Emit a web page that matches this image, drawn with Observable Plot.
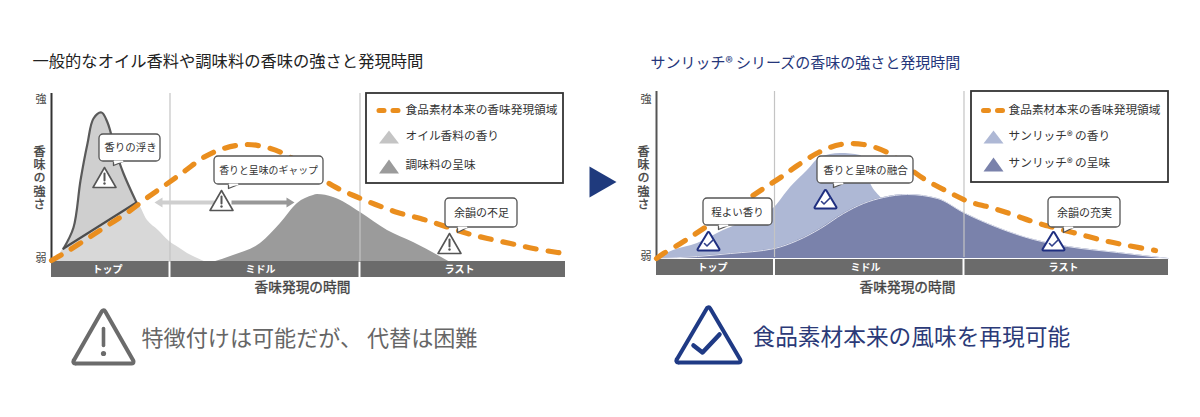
<!DOCTYPE html>
<html lang="ja">
<head>
<meta charset="utf-8">
<script src="https://cdn.jsdelivr.net/npm/d3@7"></script>
<script src="https://cdn.jsdelivr.net/npm/@observablehq/plot@0.6"></script>
<style>
html,body{margin:0;padding:0;background:#fff;width:1200px;height:417px;overflow:hidden}
#row{display:flex;width:1200px;height:417px}
svg{display:block;overflow:visible}
.vlabel text{writing-mode:vertical-rl;letter-spacing:1.3px}
</style>
</head>
<body>
<div id="row"></div>
<script>
// ---- shared labels ----
const phaseLabels = ["トップ", "ミドル", "ラスト"];
const axisTicks = ["弱", "強"];
const yAxisLabel = "香味の強さ";
const xAxisLabel = "香味発現の時間";
const regionLabel = "食品素材本来の香味発現領域";

// ---- left panel: [time, intensity] ----
const leftRegion = [[0,2],[14,10],[36,24],[56,37],[76,50],[96,65],[116,79],[134,92],[152,105],[172,114],[196,118],[219,114],[236,107],[259,92],[281,77],[302,67],[324,58],[346,50],[369,44],[391,37],[416,29],[436,24],[459,19],[482,14],[506,10],[514,9]];
const oilPeak = [[12,14],[22,35],[29,82],[36,119],[42,144],[50,150],[56,140],[64,112],[72,89],[85,60]];
const oilTail = [[4,0],[12,14],[85,60],[96,42],[107,32],[118,21],[127,15],[136,9],[144,5],[155,0]];
const leftTaste = [[161,0],[182,7],[209,19],[229,39],[246,59],[262,67],[266,68],[282,65],[309,50],[336,32],[362,20],[399,0]];
const leftCalloutLabels = ["香りの浮き", "香りと呈味のギャップ", "余韻の不足"];
const leftLegendNames = ["オイル香料の香り", "調味料の呈味"];

// ---- right panel: [time, intensity] ----
const rightRegion = [[0,0],[7,5],[24,15],[44,28],[74,48],[104,68],[124,81],[141,93],[162,106],[184,114],[207,114],[231,106],[249,93],[267,80],[291,67],[312,57],[334,51],[356,44],[379,36],[401,30],[424,24],[447,18],[471,13],[499,8]];
const sunAroma = [[0,0],[17,8],[41,15],[67,28],[91,38],[118,51],[134,71],[151,88],[164,101],[184,105],[204,103],[214,75],[226,59],[244,38],[269,0]];
const sunTaste = [[0,0],[41,2],[74,5],[118,10],[141,18],[164,30],[187,45],[207,55],[227,61],[251,64],[281,60],[307,46],[341,31],[377,19],[411,12],[461,6],[512,0]];
const rightCalloutLabels = ["程よい香り", "香りと呈味の融合", "余韻の充実"];
const rightLegendNames = ["サンリッチ® の香り", "サンリッチ® の呈味"];

// ---- annotation placement, in the panels' own time / intensity units ----
const leftCalloutPlaces = [
  {x1:48,x2:109,y1:101,y2:128,cx:79,cy:115,tip:[62,97],fs:10.5},
  {x1:163,x2:272,y1:78,y2:106,cx:217,cy:92,tip:[177,74],fs:9.9},
  {x1:394,x2:466,y1:35,y2:64,cx:430,cy:49,tip:[406,30],fs:11}
];
const rightCalloutPlaces = [
  {x1:47,x2:116,y1:33,y2:60,cx:81,cy:46,tip:[62,29],fs:10.5},
  {x1:161,x2:257,y1:75,y2:102,cx:209,cy:88,tip:[177,71],fs:10.6},
  {x1:392,x2:464,y1:31,y2:61,cx:428,cy:45,tip:[407,26],fs:11}
];
const leftBadges = [[53,75],[170,52],[398,9]];
const rightBadges = [[52,7],[169,49],[397,7]];

const FONT = "'Noto Sans CJK JP','Noto Sans',sans-serif";
const ORANGE = "#ea8e1e";

function closed(p){ return [...p, p[0]]; }
function poly(p, o){ return Plot.line(p, {x:d=>d[0], y:d=>d[1], strokeLinejoin:"round", ...o}); }
function tri(cx, b, w, h){ return closed([[cx-w,b],[cx+w,b],[cx,b+h]]); }
const label = (x,y,text,o={}) => Plot.text([text], {x:()=>x, y:()=>y, text:d=>d, fontSize:11, fill:"#333", ...o});
// rounded triangle: fat round-joined outline with a sharp white fill on top
function roundTri(p, color, width){
  return [poly(p,{stroke:color,strokeWidth:width}), poly(p,{fill:"#fff",stroke:"none"})];
}

function warnBadge([cx,b]){
  return [
    poly(tri(cx,b,11.5,20), {fill:"#fff", stroke:"#555", strokeWidth:1.6}),
    poly([[cx,b+14],[cx,b+7]], {stroke:"#555", strokeWidth:2}),
    Plot.dot([[cx,b+4]], {r:1.2, fill:"#555"})
  ];
}
function checkBadge([cx,b]){
  return [
    ...roundTri(tri(cx,b+2,10,16.5),"#1f2f80",4),
    poly([[cx-4,b+8],[cx-1.5,b+5.5],[cx+4.5,b+11.5]], {stroke:"#2f3f8a", strokeWidth:1.6, strokeLinecap:"round"})
  ];
}
function callout(c,i,labels){
  const a=[c.tip[0],c.y1], b=[c.tip[0]+10,c.y1];
  return [
    Plot.rect([c], {x1:"x1",x2:"x2",y1:"y1",y2:"y2",fill:"#fff",stroke:"#555",strokeWidth:1.3,rx:4}),
    poly([a,c.tip,b], {fill:"#fff",stroke:"#555",strokeWidth:1.3}),
    poly([[a[0]+1,a[1]],[b[0]-1,b[1]]], {stroke:"#fff",strokeWidth:2}),
    label(c.cx,c.cy,labels[i],{fontSize:c.fs})
  ];
}
function frame(o){
  return [
    Plot.ruleX(o.seps, {y1:1, y2:o.top, stroke:"#c4c4c4", strokeWidth:1.2}),
    Plot.ruleX([0], {y1:-1, y2:o.top, stroke:o.axisColor, strokeWidth:2}),
    Plot.axisY({ticks:o.tickVals, tickFormat:d=>axisTicks[o.tickVals.indexOf(d)], tickSize:0, tickPadding:5, fontSize:11, fill:"#444", label:null}),
    Plot.text([yAxisLabel], {x:()=>o.yLabelX, y:()=>o.yLabelY, text:d=>d, fontSize:12, fill:"#444", stroke:"#444", strokeWidth:0.35, className:"vlabel"}),
    Plot.rect(o.bands, {x1:"a", x2:"b", y1:o.bandY[0], y2:o.bandY[1], fill:"#6b6b6b"}),
    Plot.text(o.bands, {x:"c", y:o.bandLabelY, text:(d,i)=>phaseLabels[i], fill:"#fff", fontSize:10, fontWeight:"bold"}),
    label(o.xLabelX, o.xLabelY, xAxisLabel, {fontSize:13.7, fill:"#444", stroke:"#444", strokeWidth:0.35})
  ];
}
function legend(o){
  const [x1,x2,y1,y2]=o.box, m=o.mark;
  return [
    Plot.rect([0], {x1:()=>x1,x2:()=>x2,y1:()=>y1,y2:()=>y2,fill:"#fff",stroke:"#333",strokeWidth:1.8}),
    poly([[m,o.rows[0]],[m+19,o.rows[0]]], {stroke:ORANGE,strokeWidth:5,strokeLinecap:"round",strokeDasharray:"5 9"}),
    label(o.text,o.rows[0],regionLabel,{textAnchor:"start",fontSize:11.7}),
    poly(tri(m+10,o.rows[1]-7,10,13),{fill:o.colors[0]}),
    label(o.text,o.rows[1],o.names[0],{textAnchor:"start",fontSize:11.7}),
    poly(tri(m+10,o.rows[2]-8,10,14),{fill:o.colors[1]}),
    label(o.text,o.rows[2],o.names[1],{textAnchor:"start",fontSize:11.7})
  ];
}
const region = d => Plot.line(d, {x:p=>p[0], y:p=>p[1], curve:"catmull-rom", stroke:ORANGE, strokeWidth:5.2, strokeLinecap:"round", strokeDasharray:"11 12"});
const areaOf = (d,fill,extra={}) => Plot.areaY(d, {x:p=>p[0], y:p=>p[1], curve:"monotone-x", fill, ...extra});

const left = Plot.plot({
  width:620, height:417, marginLeft:51, marginRight:55, marginTop:92, marginBottom:155,
  x:{domain:[0,514], axis:null}, y:{domain:[0,170], axis:null},
  style:{fontFamily:FONT, background:"transparent", overflow:"visible"},
  marks:[
    label(-19,201,"一般的なオイル香料や調味料の香味の強さと発現時間",{textAnchor:"start",fontSize:16.3,fill:"#222"}),
    areaOf(oilTail,"#d8d8d8"),
    Plot.line(oilPeak,{x:p=>p[0],y:p=>p[1],curve:"catmull-rom",fill:"#cfcfcf",stroke:"#5a5a5a",strokeWidth:2.2}),
    poly([oilPeak[0],oilPeak[oilPeak.length-1]],{stroke:"#4d4d4d",strokeWidth:2.2}),
    areaOf(leftTaste,"#9b9b9b"),
    ...frame({seps:[118.5,308.5],top:169,axisColor:"#333",tickVals:[4,163],yLabelX:-12,yLabelY:88,
      bands:[{a:0,b:117.5,c:56},{a:119.5,b:307.5,c:209},{a:309.5,b:514,c:408}],bandY:[1,-15],bandLabelY:-7,xLabelX:251,xLabelY:-25}),
    region(leftRegion),
    poly(closed([[103,60],[111,65],[111,62],[165,62],[165,58],[111,58],[111,55]]),{fill:"#cfcfcf"}),
    poly(closed([[243,60],[235,65],[235,62],[180,62],[180,58],[235,58],[235,55]]),{fill:"#989898"}),
    ...leftCalloutPlaces.flatMap((c,i)=>callout(c,i,leftCalloutLabels)),
    ...leftBadges.flatMap(warnBadge),
    ...legend({box:[315,512,79,169],mark:327.5,text:354,rows:[152,126,97],colors:["#c4c4c4","#9b9b9b"],names:leftLegendNames}),
    ...roundTri(tri(52,-99,28,49),"#6b6b6b",8),
    poly([[52,-66],[52,-83]],{stroke:"#6b6b6b",strokeWidth:3.6}),
    Plot.dot([[52,-91]],{r:2.6,fill:"#6b6b6b"}),
    label(90,-76,"特徴付けは可能だが、 代替は困難",{textAnchor:"start",fontSize:22.1,fill:"#666"})
  ]
});

const right = Plot.plot({
  width:580, height:417, marginLeft:36, marginRight:30, marginTop:88, marginBottom:159,
  x:{domain:[0,514], axis:null}, y:{domain:[0,170], axis:null},
  style:{fontFamily:FONT, background:"transparent", overflow:"visible"},
  marks:[
    poly(closed([[-67,92],[-67,61],[-40,76.5]]),{fill:"#1f3a7d"}),
    label(-6,195,"サンリッチ® シリーズの香味の強さと発現時間",{textAnchor:"start",fontSize:15,fill:"#25367a"}),
    areaOf(sunAroma,"#aeb8d5"),
    areaOf(sunTaste,"#7a82ab"),
    Plot.line(sunTaste,{x:p=>p[0],y:p=>p[1],curve:"monotone-x",stroke:"#dfe2ee",strokeWidth:1}),
    ...frame({seps:[118,307.5],top:167,axisColor:"#555",tickVals:[2,159],yLabelX:-13,yLabelY:84,
      bands:[{a:0,b:117,c:56},{a:119,b:306.5,c:209},{a:308.5,b:512,c:407}],bandY:[-1,-17],bandLabelY:-9,xLabelX:251,xLabelY:-29}),
    region(rightRegion),
    ...rightCalloutPlaces.flatMap((c,i)=>callout(c,i,rightCalloutLabels)),
    ...rightBadges.flatMap(checkBadge),
    ...legend({box:[315,512,76,167],mark:327,text:352,rows:[148,122,95],colors:["#aeb8d5","#7a82ab"],names:rightLegendNames}),
    ...roundTri(tri(52,-102,30,51),"#1f3a85",8),
    poly([[37,-87],[46,-94],[63,-76]],{stroke:"#1f3a85",strokeWidth:4.5,strokeLinecap:"round"}),
    label(96,-79,"食品素材本来の風味を再現可能",{textAnchor:"start",fontSize:22.7,fill:"#2b3a78"})
  ]
});
document.getElementById("row").append(left, right);
</script>
</body>
</html>
